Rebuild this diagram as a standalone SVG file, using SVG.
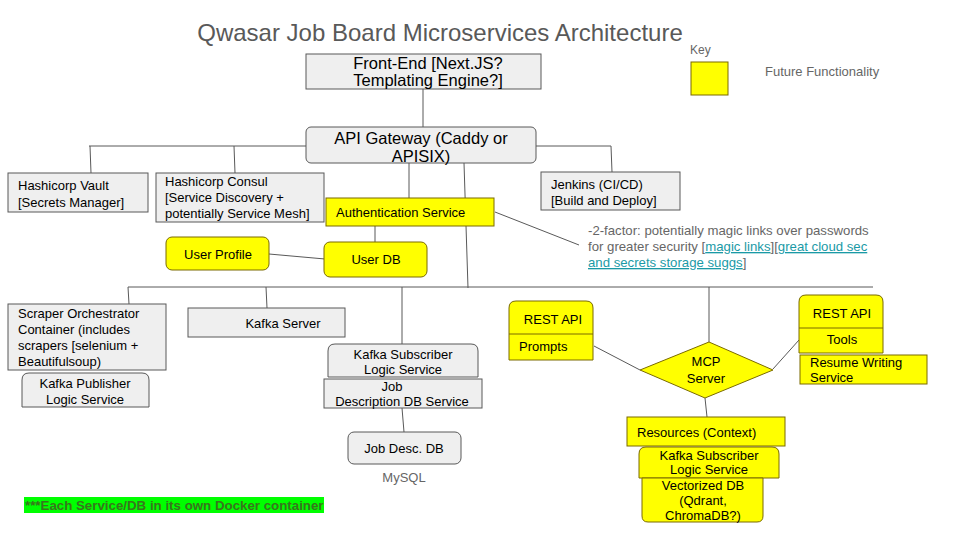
<svg xmlns="http://www.w3.org/2000/svg" width="960" height="540" viewBox="0 0 960 540">
<style>
text{font-family:"Liberation Sans",Arial,sans-serif;font-size:13px;fill:#000}
.g{fill:#efefef;stroke:#595959;stroke-width:1}
.y{fill:#ffff00;stroke:#7a6a00;stroke-width:1}
.c{text-anchor:middle}
.big{font-size:16.5px}
.gray{fill:#666}
.link{fill:#1a9aa6;text-decoration:underline}
.con line,.con polyline{stroke:#595959;stroke-width:1;fill:none}
</style>
<rect width="960" height="540" fill="#fff"/>
<text x="440" y="41" class="c" style="font-size:24px;fill:#595959">Qwasar Job Board Microservices Architecture</text>

<g id="key">
<text x="690" y="54" style="font-size:12px;fill:#666">Key</text>
<rect x="691" y="62" width="37" height="33" class="y"/>
<text x="765" y="76" class="gray">Future Functionality</text>
</g>

<g class="con" id="connectors">
<line x1="423" y1="89" x2="423" y2="127"/>
<polyline points="306,146 89,146"/>
<line x1="90" y1="146" x2="91" y2="173"/>
<line x1="234" y1="146" x2="235" y2="173"/>
<polyline points="536,146 611,146 612,172"/>
<line x1="409" y1="163" x2="409" y2="198"/>
<line x1="464" y1="163" x2="468" y2="288"/>
<line x1="375" y1="226" x2="375" y2="242"/>
<line x1="269" y1="254" x2="325" y2="259"/>
<line x1="495" y1="212" x2="579" y2="245"/>
<line x1="128" y1="287" x2="873" y2="287"/>
<line x1="128" y1="287" x2="129" y2="304"/>
<line x1="266" y1="287" x2="267" y2="308"/>
<line x1="402" y1="287" x2="402" y2="344"/>
<line x1="402" y1="408" x2="404" y2="432"/>
<line x1="709" y1="287" x2="709" y2="342"/>
<line x1="594" y1="346" x2="640" y2="370"/>
<line x1="773" y1="369" x2="799" y2="340"/>
<line x1="705" y1="398" x2="707" y2="417"/>
</g>

<g id="frontend">
<rect x="306" y="54" width="235" height="35" class="g"/>
<text x="428" y="69" class="c big">Front-End [Next.JS?</text>
<text x="428" y="86" class="c big">Templating Engine?]</text>
</g>

<g id="apigateway">
<rect x="306" y="127" width="230" height="36" rx="5" class="g"/>
<text x="421" y="144" class="c big">API Gateway (Caddy or</text>
<text x="421" y="162" class="c big">APISIX)</text>
</g>

<g id="vault">
<rect x="8" y="173" width="140" height="39" class="g"/>
<text x="18" y="190">Hashicorp Vault</text>
<text x="18" y="207">[Secrets Manager]</text>
</g>

<g id="consul">
<rect x="156" y="173" width="168" height="49" class="g"/>
<text x="165" y="186">Hashicorp Consul</text>
<text x="165" y="202">[Service Discovery +</text>
<text x="165" y="218">potentially Service Mesh]</text>
</g>

<g id="jenkins">
<rect x="541" y="172" width="139" height="38" class="g"/>
<text x="551" y="189">Jenkins (CI/CD)</text>
<text x="551" y="205">[Build and Deploy]</text>
</g>

<g id="auth">
<rect x="326" y="198" width="168" height="28" class="y"/>
<text x="336" y="217">Authentication Service</text>
</g>

<g id="userdb">
<rect x="324" y="242" width="103" height="35" rx="6" class="y"/>
<text x="376" y="264" class="c">User DB</text>
</g>

<g id="userprofile">
<rect x="166" y="237" width="103" height="33" rx="6" class="y"/>
<text x="218" y="259" class="c">User Profile</text>
</g>

<g id="note">
<text x="588" y="235" class="gray" style="font-size:13.2px">-2-factor: potentially magic links over passwords</text>
<text x="588" y="251" class="gray" style="font-size:13.2px">for greater security [<tspan class="link">magic links</tspan>][<tspan class="link">great cloud sec</tspan></text>
<text x="588" y="267" class="gray" style="font-size:13.2px"><tspan class="link">and secrets storage suggs</tspan>]</text>
</g>

<g id="scraper">
<rect x="8" y="304" width="158" height="66" class="g"/>
<text x="18" y="318">Scraper Orchestrator</text>
<text x="18" y="334">Container (includes</text>
<text x="18" y="350">scrapers [selenium +</text>
<text x="18" y="366">Beautifulsoup)</text>
</g>

<g id="kafkapublisher">
<path d="M22,407 V380 Q22,373 29,373 H142 Q149,373 149,380 V407 Z" class="g"/>
<text x="85" y="388" class="c">Kafka Publisher</text>
<text x="85" y="404" class="c">Logic Service</text>
</g>

<g id="kafkaserver">
<rect x="188" y="308" width="157" height="29" class="g"/>
<text x="283" y="328" class="c">Kafka Server</text>
</g>

<g id="kafkasubscriber1">
<path d="M328,377 V351 Q328,344 335,344 H471 Q478,344 478,351 V377 Z" class="g"/>
<text x="403" y="359" class="c">Kafka Subscriber</text>
<text x="403" y="374" class="c">Logic Service</text>
</g>

<g id="jobdescservice">
<rect x="324" y="379" width="158" height="29" class="g"/>
<text x="392" y="391" class="c">Job</text>
<text x="402" y="406" class="c">Description DB Service</text>
</g>

<g id="jobdescdb">
<rect x="348" y="432" width="113" height="32" rx="6" class="g"/>
<text x="404" y="453" class="c">Job Desc. DB</text>
<text x="404" y="482" class="c gray">MySQL</text>
</g>

<g id="dockernote">
<rect x="24" y="497" width="300" height="16" fill="#00ff00"/>
<text x="25" y="510" style="font-size:13.3px;font-weight:bold;fill:#38761d">***Each Service/DB in its own Docker container</text>
</g>

<g id="restprompts">
<path d="M509,360 V308 Q509,301 516,301 H586 Q593,301 593,308 V360 Z" class="y"/>
<line x1="509" y1="334" x2="593" y2="334" stroke="#7a6a00"/>
<text x="553" y="324" class="c">REST API</text>
<text x="519" y="351">Prompts</text>
</g>

<g id="mcp">
<polygon points="640,370 709,342 773,370 705,398" class="y"/>
<text x="706" y="366" class="c">MCP</text>
<text x="706" y="383" class="c">Server</text>
</g>

<g id="resttools">
<path d="M799,353 V302 Q799,295 806,295 H876 Q883,295 883,302 V353 Z" class="y"/>
<line x1="799" y1="328" x2="883" y2="328" stroke="#7a6a00"/>
<text x="842" y="318" class="c">REST API</text>
<text x="842" y="344" class="c">Tools</text>
</g>

<g id="resume">
<rect x="800" y="355" width="127" height="29" class="y"/>
<text x="810" y="367">Resume Writing</text>
<text x="810" y="382">Service</text>
</g>

<g id="resources">
<rect x="627" y="417" width="158" height="29" class="y"/>
<text x="637" y="437">Resources (Context)</text>
</g>

<g id="kafkasubscriber2">
<path d="M639,478 V454 Q639,447 646,447 H772 Q779,447 779,454 V478 Z" class="y"/>
<text x="709" y="460" class="c">Kafka Subscriber</text>
<text x="709" y="474" class="c">Logic Service</text>
</g>

<g id="vectordb">
<path d="M642,478 H763 V516 Q763,522 757,522 H648 Q642,522 642,516 Z" class="y"/>
<text x="703" y="490" class="c">Vectorized DB</text>
<text x="703" y="505" class="c">(Qdrant,</text>
<text x="703" y="520" class="c">ChromaDB?)</text>
</g>
</svg>
